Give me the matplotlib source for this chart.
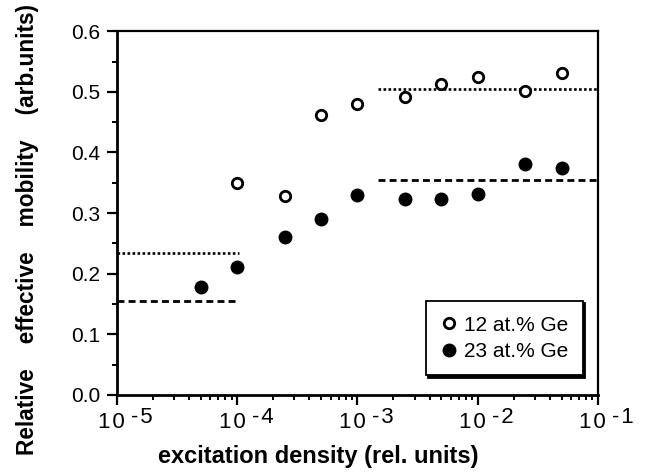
import matplotlib.pyplot as plt
import numpy as np
from matplotlib.ticker import LogLocator, MultipleLocator, NullFormatter
from matplotlib.transforms import blended_transform_factory, offset_copy

plt.rcParams['font.family'] = ['Liberation Sans', 'DejaVu Sans']

# Data
density = [1e-4, 2.5e-4, 5e-4, 1e-3, 2.5e-3, 5e-3, 1e-2, 2.5e-2, 5e-2]
mob_12 = [0.350, 0.329, 0.462, 0.480, 0.491, 0.513, 0.524, 0.502, 0.531]

density_23 = [5e-5, 1e-4, 2.5e-4, 5e-4, 1e-3, 2.5e-3, 5e-3, 1e-2, 2.5e-2, 5e-2]
mob_23 = [0.178, 0.211, 0.261, 0.290, 0.330, 0.323, 0.323, 0.331, 0.381, 0.374]

# guide levels: (x start, x end, level)
dotted_levels = [(1e-5, 1.03e-4, 0.234), (1.5e-3, 1e-1, 0.505)]
dashed_levels = [(1e-5, 1.03e-4, 0.155), (1.5e-3, 1e-1, 0.355)]

decades = [-5, -4, -3, -2, -1]

fig = plt.figure(figsize=(6.49, 4.73), dpi=100)
ax = fig.add_axes([0.180, 0.165, 0.741, 0.769])

for x0, x1, y in dotted_levels:
    ax.plot([x0, x1], [y, y], color='black', linestyle=(0, (1, 0.9)), linewidth=1.9)
for x0, x1, y in dashed_levels:
    ax.plot([x0, x1], [y, y], color='black', linestyle=(0, (2.5, 1.5)), linewidth=2.0)

ax.plot(density, mob_12, 'o', markerfacecolor='white', markeredgecolor='black',
        markeredgewidth=2.0, markersize=7.5, label='12 at.% Ge', linestyle='none')
ax.plot(density_23, mob_23, 'o', color='black', markersize=9,
        label='23 at.% Ge', linestyle='none')

ax.set_xscale('log')
ax.set_xlim(1e-5, 1e-1)
ax.set_ylim(0.0, 0.6)
ax.xaxis.set_major_locator(LogLocator(base=10, numticks=10))
ax.xaxis.set_minor_locator(LogLocator(base=10, subs=np.arange(2, 10), numticks=10))
ax.xaxis.set_major_formatter(NullFormatter())
ax.xaxis.set_minor_formatter(NullFormatter())
ax.yaxis.set_major_locator(MultipleLocator(0.1))
ax.yaxis.set_minor_locator(MultipleLocator(0.05))
ax.yaxis.set_major_formatter(plt.FuncFormatter(lambda v, p: '%.1f' % v))

for s in ax.spines.values():
    s.set_linewidth(1.6)
ax.spines['left'].set_linewidth(2.0)
ax.spines['bottom'].set_linewidth(2.0)

ax.tick_params(axis='both', which='major', direction='out', length=7, width=1.6,
               labelsize=15, colors='black', pad=5)
ax.tick_params(axis='both', which='minor', direction='out', length=3.6, width=1.4)

# decade labels drawn as "10" with a full-size raised exponent
trans = blended_transform_factory(ax.transData, ax.transAxes)
for d in decades:
    base = offset_copy(trans, fig=fig, x=6, y=-12, units='points')
    ax.text(10.0 ** d, 0, '1\u200a0', transform=base, ha='right', va='top',
            fontsize=16, clip_on=False)
    sup = offset_copy(trans, fig=fig, x=10.5, y=-8.5, units='points')
    ax.text(10.0 ** d, 0, '-\u200a%d' % abs(d), transform=sup, ha='left', va='top',
            fontsize=16, clip_on=False)

fig.text(0.490, 0.021, 'excitation density (rel. units)', ha='center', va='baseline',
         fontsize=17, fontweight='bold')
fig.text(0.042, 0.514, 'Relative    effective    mobility    (arb.units)',
         rotation=90, ha='center', va='center', fontsize=16.3, fontweight='bold')

leg = ax.legend(loc='lower right', frameon=True, fontsize=15, handletextpad=0.3,
                borderpad=0.7, handlelength=0.8, labelspacing=0.35,
                bbox_to_anchor=(0.99, 0.025), fancybox=False,
                shadow={'color': 'black', 'alpha': 1.0, 'ox': 1.5, 'oy': -1.5})
leg.get_frame().set_edgecolor('black')
leg.get_frame().set_linewidth(1.3)

fig.savefig('out.png', dpi=100)
